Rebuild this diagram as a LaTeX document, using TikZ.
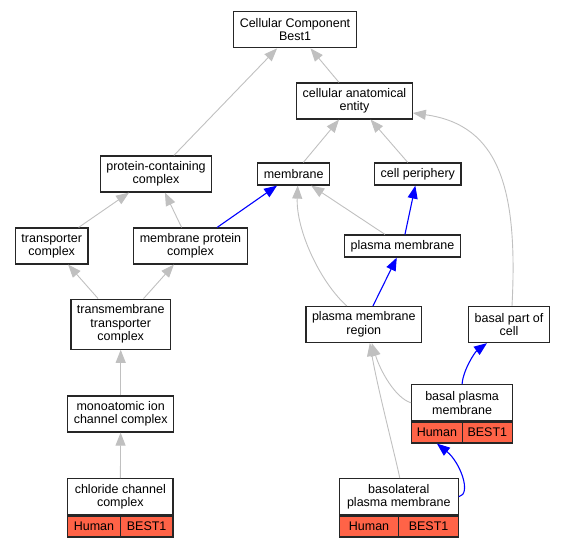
\documentclass[tikz,border=0pt]{standalone}
\usepackage{fontspec}
\setmainfont{Liberation Sans}
\usetikzlibrary{arrows.meta}
\definecolor{genecell}{RGB}{255,99,71}
\definecolor{isagray}{RGB}{192,192,192}
\begin{document}
\begin{tikzpicture}[x=1pt, y=-1pt,
    term/.style={draw=black!85, line width=1.2pt, fill=white, align=center,
      inner xsep=6pt, inner ysep=0pt, font=\fontsize{12.5}{13.5}\selectfont},
    oneline/.style={term, minimum height=22pt},
    twoline/.style={term, minimum height=36pt},
    threeline/.style={term, minimum height=50pt},
    gene/.style={term, fill=genecell, minimum height=21pt, inner xsep=0pt},
    isa/.style={draw=isagray, line width=0.9pt, -{Triangle[length=13pt,width=10pt]}},
    partof/.style={draw=blue, line width=1.1pt, -{Triangle[length=13pt,width=10pt]}}]
  \useasboundingbox (0,0) rectangle (567,547);
  % terms
  \node[twoline] (cc) at (295,29.75) {Cellular Component\\Best1};
  \node[twoline] (cae) at (354.5,101) {cellular anatomical\\entity};
  \node[twoline] (pcc) at (156,174) {protein-containing\\complex};
  \node[oneline] (membrane) at (293.7,174) {membrane};
  \node[oneline] (periphery) at (417.8,174) {cell periphery};
  \node[twoline] (transporter) at (51.7,246) {transporter\\complex};
  \node[twoline] (mpc) at (190.5,246) {membrane protein\\complex};
  \node[oneline] (pm) at (402.5,246) {plasma membrane};
  \node[threeline] (tmtc) at (120.7,324.2) {transmembrane\\transporter\\complex};
  \node[twoline] (pmr) at (363.8,324.5) {plasma membrane\\region};
  \node[twoline] (bpoc) at (509,324.5) {basal part of\\cell};
  \node[twoline] (mic) at (120.7,414) {monoatomic ion\\channel complex};
  % annotated terms
  \node[twoline, minimum width=105.3pt] (chloride) at (120.3,496.7) {chloride channel\\complex};
  \node[gene, minimum width=52.65pt, anchor=north west] (chlorideHuman) at (chloride.south west) {Human};
  \node[gene, minimum width=52.65pt, anchor=north east] (chlorideGene) at (chloride.south east) {BEST1};
  \node[twoline, minimum width=100.8pt] (bpm) at (462.1,402.8) {basal plasma\\membrane};
  \node[gene, minimum width=50.4pt, anchor=north west] (bpmHuman) at (bpm.south west) {Human};
  \node[gene, minimum width=50.4pt, anchor=north east] (bpmGene) at (bpm.south east) {BEST1};
  \node[twoline, minimum width=119pt] (basolat) at (398.8,496.7) {basolateral\\plasma membrane};
  \node[gene, minimum width=59.5pt, anchor=north west] (basolatHuman) at (basolat.south west) {Human};
  \node[gene, minimum width=59.5pt, anchor=north east] (basolatGene) at (basolat.south east) {BEST1};
  % relations
  \draw[isa] (pcc) -- (cc);
  \draw[isa] (cae) -- (cc);
  \draw[isa] (membrane) -- (cae);
  \draw[isa] (periphery) -- (cae);
  \draw[isa] ([xshift=3pt]bpoc.north) .. controls (518,190) and (500,125) .. ([yshift=-12pt]cae.east);
  \draw[isa] (transporter) -- (pcc);
  \draw[isa] (mpc) -- (pcc);
  \draw[partof] (mpc) -- (membrane);
  \draw[isa] (tmtc) -- (transporter);
  \draw[isa] (tmtc) -- (mpc);
  \draw[isa] (pm) -- (membrane);
  \draw[isa] ([xshift=-17pt]pmr.north) .. controls (320,282) and (296,230) .. ([xshift=4pt]membrane.south);
  \draw[partof] (pm) -- (periphery);
  \draw[partof] (pmr) -- (pm);
  \draw[isa] (mic) -- (tmtc);
  \draw[isa] (chloride) -- (mic);
  \draw[isa] (bpm.west) .. controls (395,398) and (380,370) .. ([xshift=8pt]pmr.south);
  \draw[isa] ([xshift=1pt]basolat.north) .. controls (395,455) and (378,390) .. ([xshift=6pt]pmr.south);
  \draw[partof] (bpm.north) .. controls (463,370) and (475,352) .. ([xshift=-22pt]bpoc.south);
  \draw[partof] (basolat.east) .. controls (472,494) and (460,462) .. (bpmHuman.south);
\end{tikzpicture}
\end{document}
